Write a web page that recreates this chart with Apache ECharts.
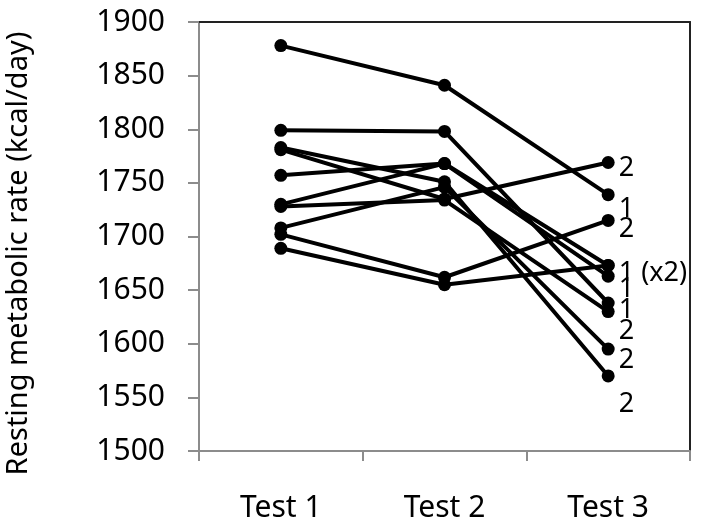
<!DOCTYPE html>
<html>
<head>
<meta charset="utf-8">
<script src="https://cdn.jsdelivr.net/npm/echarts@6/dist/echarts.min.js"></script>
<style>
  html, body { margin: 0; padding: 0; background: #fff; }
  #chart { width: 701px; height: 526px; }
</style>
</head>
<body>
<div id="chart"></div>
<script>
// categories
var tests = ['Test 1', 'Test 2', 'Test 3']

// one row per subject: Test 1, Test 2, Test 3 (kcal/day)
var subject1 = [1878, 1841, 1739]
var subject2 = [1799, 1798, 1638]
var subject3 = [1783, 1751, 1570]
var subject4 = [1781, 1735, 1769]
var subject5 = [1757, 1768, 1673]
var subject6 = [1730, 1768, 1663]
var subject7 = [1728, 1734, 1630]
var subject8 = [1708, 1746, 1595]
var subject9 = [1702, 1662, 1715]
var subject10 = [1689, 1655, 1673]
var subjects = [subject1, subject2, subject3, subject4, subject5,
  subject6, subject7, subject8, subject9, subject10]

// text written next to the Test 3 point ('' = none)
var test3Labels = ['1', '1', '2', '2', '1 (x2)', '1', '2', '2', '2', '']

// y axis ticks
var yMin = 1500
var yMax = 1900
var yStep = 50

// where each Test 3 label sits relative to its point (px)
var labelShift = [[0, 15], [0, 7], [0, 28], [0, 6], [0, 8], [0, 13], [0, 20], [0, 11], [0, 9], [0, 0]]

var font = 'Noto Sans'

var chart = echarts.init(document.getElementById('chart'))

var series = subjects.map(function (vals, i) {
  return {
    type: 'line',
    symbol: 'circle',
    symbolSize: 13,
    lineStyle: { color: '#000', width: 4 },
    itemStyle: { color: '#000' },
    emphasis: { disabled: true },
    z: 3,
    data: vals.map(function (v, j) {
      if (j !== 2 || !test3Labels[i]) return v
      return {
        value: v,
        label: {
          show: true,
          position: 'right',
          distance: 4,
          offset: labelShift[i],
          formatter: test3Labels[i],
          color: '#000',
          fontFamily: font,
          fontSize: 27
        }
      }
    })
  }
})

chart.setOption({
  animation: false,
  grid: { left: 199, right: 11, top: 22, bottom: 75, outerBoundsMode: 'none', containLabel: false },
  xAxis: [
    {
      type: 'category',
      data: tests,
      boundaryGap: true,
      axisLine: { lineStyle: { color: '#8c8c8c', width: 2 } },
      axisTick: { show: true, length: 10, lineStyle: { color: '#8c8c8c', width: 2 } },
      axisLabel: { color: '#000', fontFamily: font, fontSize: 30, margin: 42 },
      splitLine: { show: false }
    },
    {
      type: 'category',
      data: tests,
      position: 'top',
      axisLine: { lineStyle: { color: '#222', width: 2 } },
      axisTick: { show: false },
      axisLabel: { show: false }
    }
  ],
  yAxis: [
    {
      type: 'value',
      min: yMin,
      max: yMax,
      interval: yStep,
      name: 'Resting metabolic rate (kcal/day)',
      nameLocation: 'middle',
      nameRotate: 90,
      nameGap: 166,
      nameTextStyle: { color: '#000', fontFamily: font, fontSize: 29, padding: [0, 34, 0, 0] },
      axisLine: { show: true, lineStyle: { color: '#8c8c8c', width: 2 } },
      axisTick: { show: true, length: 11, lineStyle: { color: '#8c8c8c', width: 2 } },
      axisLabel: {
        color: '#000', fontFamily: font, fontSize: 30, margin: 34,
        formatter: function (v) { return String(v) }
      },
      splitLine: { show: false }
    },
    {
      type: 'value',
      min: yMin,
      max: yMax,
      interval: yStep,
      position: 'right',
      axisLine: { show: true, lineStyle: { color: '#222', width: 2 } },
      axisTick: { show: false },
      axisLabel: { show: false },
      splitLine: { show: false }
    }
  ],
  series: series
})
</script>
</body>
</html>
